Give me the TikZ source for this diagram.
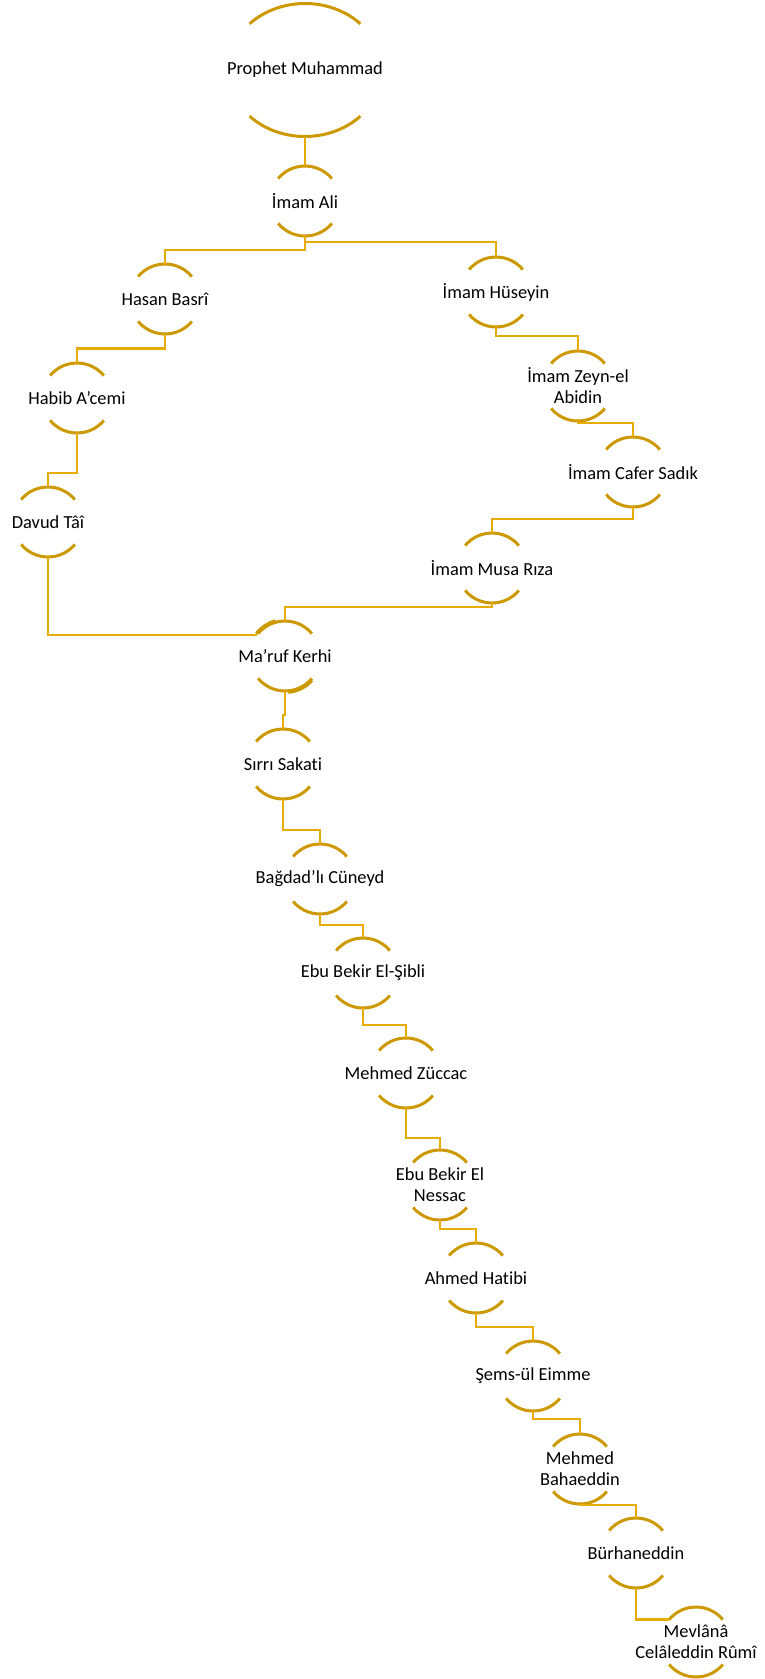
\documentclass[tikz,border=0pt]{standalone}
\usepackage{fontspec}
\setmainfont{Carlito}[Ligatures=NoCommon]
\usepackage{tikz}

\definecolor{arcgold}{RGB}{204,153,0}
\definecolor{linkgold}{RGB}{230,172,0}

\tikzset{
    sage/.style={align=center, inner sep=0pt, font=\fontsize{18.4}{21}\selectfont},
    halo/.style={draw=arcgold, line width=3pt},
    link/.style={draw=linkgold, line width=2.8pt}
}

\begin{document}
\begin{tikzpicture}[x=1pt,y=1pt]
    \useasboundingbox (0,0) rectangle (764,-1679);

    % Top of the chain
    \node[sage] (pm) at (305,-70) {Prophet Muhammad};
    \node[sage] (ali) at (305,-201) {İmam Ali};

    % Left branch
    \node[sage] (hasan) at (165,-299) {Hasan Basrî};
    \node[sage] (habib) at (77,-398) {Habib A’cemi};
    \node[sage] (davud) at (48,-522) {Davud Tâî};

    % Right branch
    \node[sage] (huseyin) at (496,-292) {İmam Hüseyin};
    \node[sage] (zeyn) at (578,-386) {İmam Zeyn-el\\Abidin};
    \node[sage] (cafer) at (633,-472) {İmam Cafer Sadık};
    \node[sage] (musa) at (492,-568) {İmam Musa Rıza};

    % Lower chain
    \node[sage] (maruf) at (285,-656) {Ma’ruf Kerhi};
    \node[sage] (sirri) at (283,-764) {Sırrı Sakati};
    \node[sage] (cuneyd) at (320,-879) {Bağdad’lı Cüneyd};
    \node[sage] (sibli) at (363,-973) {Ebu Bekir El-Şibli};
    \node[sage] (zuccac) at (406,-1073) {Mehmed Züccac};
    \node[sage] (nessac) at (440,-1185) {Ebu Bekir El\\Nessac};
    \node[sage] (ahmed) at (476,-1278) {Ahmed Hatibi};
    \node[sage] (sems) at (533,-1376) {Şems-ül Eimme};
    \node[sage] (baha) at (580,-1469) {Mehmed\\Bahaeddin};
    \node[sage] (burhan) at (636,-1553) {Bürhaneddin};
    \node[sage] (mevlana) at (696,-1642) {Mevlânâ\\Celâleddin Rûmî};

    % Arcs round the names
    \draw[halo] ([shift={(44:77pt and 66.5pt)}]pm.center) arc[start angle=44,end angle=136,x radius=77pt,y radius=66.5pt];
    \draw[halo] ([shift={(224:77pt and 66.5pt)}]pm.center) arc[start angle=224,end angle=316,x radius=77pt,y radius=66.5pt];
    \foreach \n in {ali,hasan,habib,davud,huseyin,zeyn,cafer,musa,maruf,sirri,cuneyd,sibli,zuccac,nessac,ahmed,sems,baha,burhan,mevlana} {
        \draw[halo] ([shift={(40:35pt)}]\n.center) arc[start angle=40,end angle=140,radius=35pt];
        \draw[halo] ([shift={(220:35pt)}]\n.center) arc[start angle=220,end angle=320,radius=35pt];
    }
    \draw[halo] ([shift={(105:36.5pt)}]maruf.center) arc[start angle=105,end angle=142,radius=36.5pt];
    \draw[halo] ([shift={(275:36.5pt)}]maruf.center) arc[start angle=275,end angle=318,radius=36.5pt];

    % Links
    \draw[link] ([yshift=-66.5pt]pm.center) -- ([yshift=35pt]ali.center);
    \draw[link] ([yshift=-35pt]ali.center) -- ++(0,-14) -| ([yshift=35pt]hasan.center);
    \draw[link] ([yshift=-35pt]ali.center) -- ++(0,-6) -| ([yshift=35pt]huseyin.center);
    \draw[link] ([yshift=-35pt]hasan.center) -- ++(0,-14.5) -| ([yshift=35pt]habib.center);
    \draw[link] ([yshift=-35pt]habib.center) -- ++(0,-40) -| ([yshift=35pt]davud.center);
    \draw[link] ([yshift=-35pt]davud.center) |- ([shift={(143:35pt)}]maruf.center);
    \draw[link] ([yshift=-35pt]huseyin.center) -- ++(0,-9) -| ([yshift=35pt]zeyn.center);
    \draw[link] ([yshift=-35pt]zeyn.center) -- ++(0,-2) -| ([yshift=35pt]cafer.center);
    \draw[link] ([yshift=-35pt]cafer.center) -- ++(0,-12) -| ([yshift=35pt]musa.center);
    \draw[link] ([yshift=-35pt]musa.center) -- ++(0,-4) -| ([yshift=35pt]maruf.center);
    \draw[link] ([yshift=-35pt]maruf.center) -- ++(0,-24) -| ([yshift=35pt]sirri.center);
    \draw[link] ([yshift=-35pt]sirri.center) -- ++(0,-31) -| ([yshift=35pt]cuneyd.center);
    \draw[link] ([yshift=-35pt]cuneyd.center) -- ++(0,-11) -| ([yshift=35pt]sibli.center);
    \draw[link] ([yshift=-35pt]sibli.center) -- ++(0,-17) -| ([yshift=35pt]zuccac.center);
    \draw[link] ([yshift=-35pt]zuccac.center) -- ++(0,-30) -| ([yshift=35pt]nessac.center);
    \draw[link] ([yshift=-35pt]nessac.center) -- ++(0,-9) -| ([yshift=35pt]ahmed.center);
    \draw[link] ([yshift=-35pt]ahmed.center) -- ++(0,-14) -| ([yshift=35pt]sems.center);
    \draw[link] ([yshift=-35pt]sems.center) -- ++(0,-8) -| ([yshift=35pt]baha.center);
    \draw[link] ([yshift=-35pt]baha.center) -- ++(0,-1) -| ([yshift=35pt]burhan.center);
    \draw[link] ([yshift=-35pt]burhan.center) |- ([shift={(140:35pt)}]mevlana.center);
\end{tikzpicture}
\end{document}
